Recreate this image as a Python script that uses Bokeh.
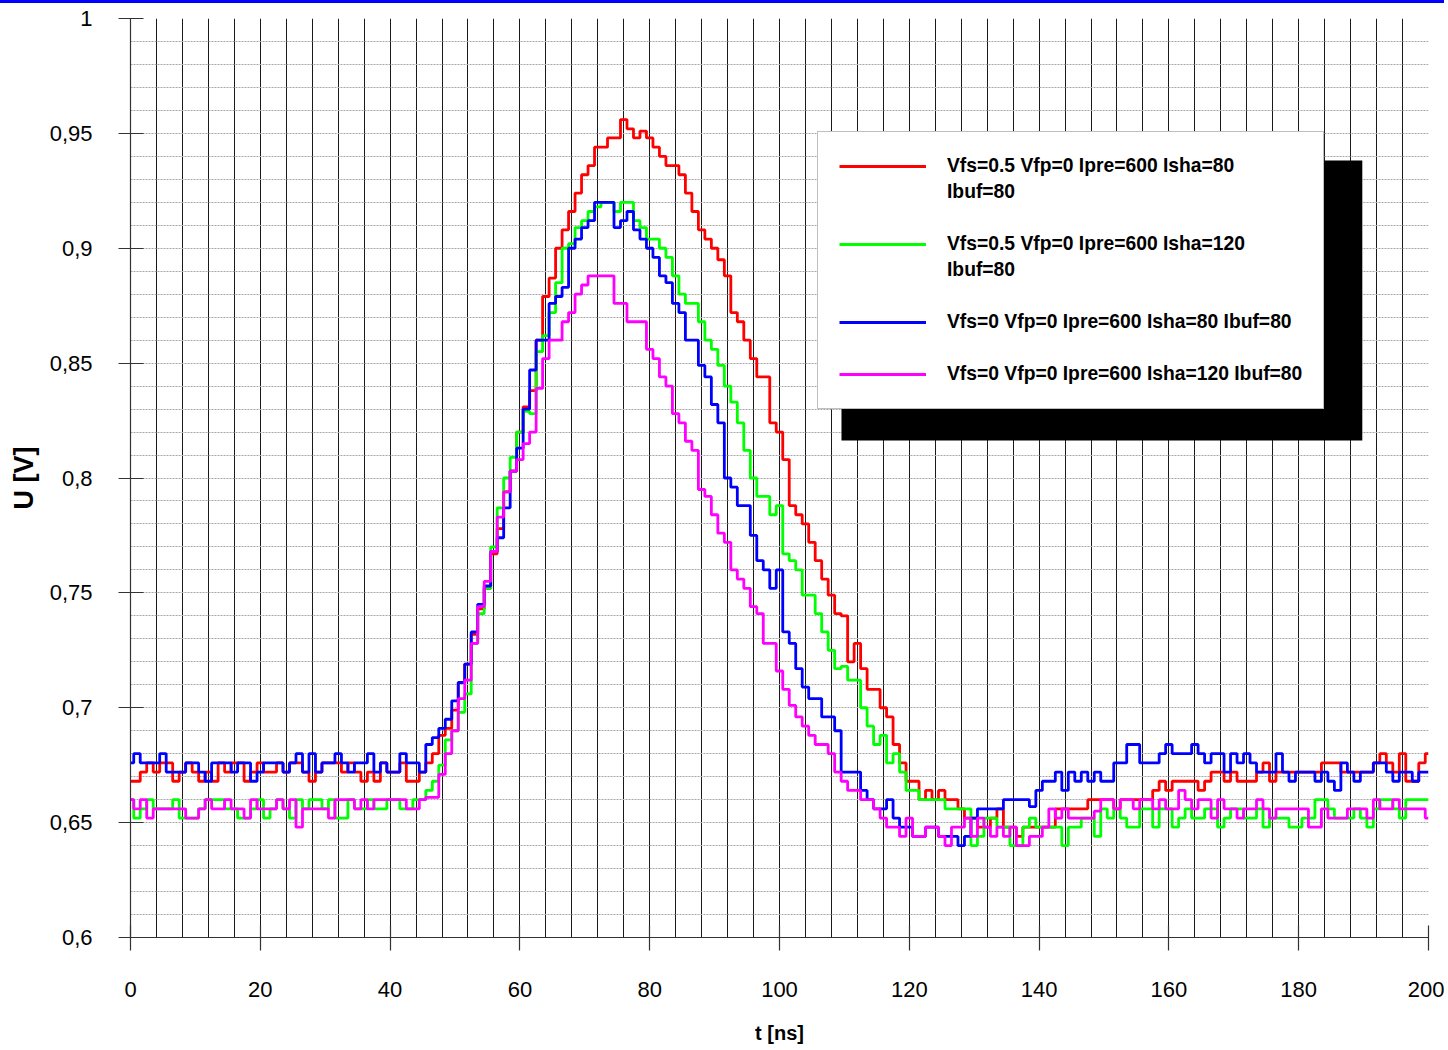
from bokeh.plotting import figure
from bokeh.models import Range1d, FixedTicker, Legend, LegendItem, BoxAnnotation
from bokeh.embed import file_html
from bokeh.resources import INLINE

# ---------------- data ----------------
t_ns = list(range(0, 201))

x_ticks = [0, 20, 40, 60, 80, 100, 120, 140, 160, 180, 200]
y_ticks = [0.6, 0.65, 0.7, 0.75, 0.8, 0.85, 0.9, 0.95, 1.0]
y_tick_labels = ["0,6", "0,65", "0,7", "0,75", "0,8", "0,85", "0,9", "0,95", "1"]

series_names = [
    ["Vfs=0.5 Vfp=0 Ipre=600 Isha=80", "Ibuf=80"],
    ["Vfs=0.5 Vfp=0 Ipre=600 Isha=120", "Ibuf=80"],
    ["Vfs=0 Vfp=0 Ipre=600 Isha=80 Ibuf=80"],
    ["Vfs=0 Vfp=0 Ipre=600 Isha=120 Ibuf=80"],
]

red = [
    0.668, 0.668, 0.672, 0.676, 0.672, 0.676, 0.676, 0.668, 0.672, 0.676,
    0.672, 0.668, 0.672, 0.668, 0.676, 0.672, 0.676, 0.676, 0.668, 0.672,
    0.676, 0.672, 0.672, 0.676, 0.672, 0.676, 0.676, 0.672, 0.668, 0.672,
    0.676, 0.676, 0.676, 0.672, 0.676, 0.672, 0.668, 0.672, 0.668, 0.676,
    0.672, 0.672, 0.676, 0.668, 0.668, 0.672, 0.676, 0.680, 0.688, 0.691,
    0.699, 0.711, 0.719, 0.732, 0.743, 0.752, 0.767, 0.778, 0.794, 0.803,
    0.820, 0.831, 0.838, 0.860, 0.879, 0.887, 0.900, 0.908, 0.916, 0.924,
    0.932, 0.936, 0.944, 0.944, 0.948, 0.948, 0.956, 0.952, 0.948, 0.951,
    0.948, 0.944, 0.940, 0.936, 0.936, 0.932, 0.924, 0.916, 0.908, 0.904,
    0.900, 0.895, 0.888, 0.872, 0.868, 0.860, 0.852, 0.844, 0.844, 0.824,
    0.820, 0.808, 0.788, 0.784, 0.780, 0.772, 0.764, 0.756, 0.749, 0.741,
    0.740, 0.720, 0.728, 0.717, 0.708, 0.708, 0.700, 0.696, 0.684, 0.676,
    0.668, 0.668, 0.660, 0.664, 0.660, 0.664, 0.660, 0.660, 0.656, 0.652,
    0.652, 0.648, 0.648, 0.652, 0.656, 0.648, 0.648, 0.644, 0.648, 0.648,
    0.648, 0.648, 0.648, 0.656, 0.656, 0.656, 0.656, 0.656, 0.660, 0.660,
    0.660, 0.660, 0.656, 0.660, 0.660, 0.660, 0.660, 0.660, 0.664, 0.668,
    0.664, 0.668, 0.668, 0.668, 0.668, 0.664, 0.668, 0.672, 0.672, 0.668,
    0.672, 0.668, 0.668, 0.668, 0.672, 0.676, 0.668, 0.672, 0.672, 0.672,
    0.672, 0.672, 0.672, 0.672, 0.676, 0.676, 0.676, 0.672, 0.672, 0.672,
    0.672, 0.672, 0.676, 0.680, 0.676, 0.672, 0.680, 0.668, 0.668, 0.676,
    0.680,
]

green = [
    0.660, 0.652, 0.656, 0.660, 0.656, 0.656, 0.656, 0.660, 0.652, 0.652,
    0.652, 0.656, 0.660, 0.660, 0.660, 0.656, 0.656, 0.652, 0.652, 0.656,
    0.660, 0.652, 0.656, 0.660, 0.656, 0.652, 0.660, 0.656, 0.660, 0.660,
    0.656, 0.660, 0.652, 0.652, 0.660, 0.656, 0.656, 0.660, 0.656, 0.656,
    0.660, 0.660, 0.656, 0.656, 0.660, 0.660, 0.664, 0.668, 0.675, 0.686,
    0.690, 0.698, 0.706, 0.728, 0.741, 0.752, 0.770, 0.787, 0.800, 0.809,
    0.820, 0.829, 0.828, 0.855, 0.862, 0.872, 0.885, 0.900, 0.902, 0.909,
    0.912, 0.916, 0.918, 0.920, 0.920, 0.916, 0.920, 0.920, 0.912, 0.909,
    0.904, 0.904, 0.900, 0.896, 0.888, 0.880, 0.876, 0.876, 0.868, 0.860,
    0.856, 0.849, 0.840, 0.833, 0.824, 0.812, 0.800, 0.792, 0.792, 0.784,
    0.788, 0.767, 0.764, 0.760, 0.749, 0.749, 0.741, 0.733, 0.725, 0.717,
    0.718, 0.712, 0.712, 0.700, 0.692, 0.684, 0.688, 0.676, 0.680, 0.672,
    0.664, 0.664, 0.660, 0.660, 0.660, 0.660, 0.656, 0.656, 0.656, 0.656,
    0.640, 0.644, 0.652, 0.652, 0.648, 0.648, 0.640, 0.640, 0.648, 0.652,
    0.648, 0.648, 0.648, 0.648, 0.640, 0.648, 0.648, 0.652, 0.652, 0.644,
    0.656, 0.652, 0.656, 0.652, 0.648, 0.648, 0.656, 0.656, 0.648, 0.656,
    0.656, 0.648, 0.652, 0.656, 0.652, 0.652, 0.656, 0.656, 0.648, 0.652,
    0.656, 0.656, 0.652, 0.652, 0.656, 0.648, 0.652, 0.652, 0.652, 0.648,
    0.648, 0.652, 0.652, 0.660, 0.660, 0.656, 0.652, 0.652, 0.652, 0.656,
    0.652, 0.648, 0.656, 0.660, 0.660, 0.656, 0.652, 0.660, 0.660, 0.660,
    0.660,
]

blue = [
    0.676, 0.680, 0.676, 0.676, 0.676, 0.680, 0.672, 0.672, 0.672, 0.676,
    0.676, 0.672, 0.668, 0.676, 0.676, 0.676, 0.672, 0.676, 0.676, 0.668,
    0.672, 0.676, 0.676, 0.676, 0.672, 0.676, 0.680, 0.672, 0.680, 0.672,
    0.676, 0.676, 0.680, 0.676, 0.672, 0.676, 0.676, 0.680, 0.672, 0.676,
    0.672, 0.672, 0.680, 0.676, 0.676, 0.672, 0.684, 0.687, 0.691, 0.695,
    0.703, 0.711, 0.719, 0.733, 0.745, 0.753, 0.768, 0.774, 0.787, 0.803,
    0.813, 0.830, 0.847, 0.860, 0.860, 0.876, 0.879, 0.883, 0.900, 0.904,
    0.909, 0.912, 0.920, 0.920, 0.920, 0.909, 0.912, 0.916, 0.908, 0.904,
    0.900, 0.896, 0.888, 0.885, 0.876, 0.872, 0.860, 0.860, 0.849, 0.844,
    0.832, 0.824, 0.800, 0.796, 0.788, 0.788, 0.775, 0.764, 0.760, 0.752,
    0.760, 0.733, 0.728, 0.717, 0.709, 0.704, 0.704, 0.696, 0.696, 0.690,
    0.672, 0.672, 0.672, 0.664, 0.660, 0.656, 0.656, 0.660, 0.652, 0.648,
    0.648, 0.644, 0.644, 0.648, 0.648, 0.644, 0.644, 0.644, 0.640, 0.644,
    0.652, 0.656, 0.656, 0.656, 0.656, 0.660, 0.660, 0.660, 0.660, 0.657,
    0.664, 0.668, 0.668, 0.672, 0.664, 0.672, 0.668, 0.672, 0.668, 0.672,
    0.668, 0.668, 0.676, 0.676, 0.684, 0.684, 0.676, 0.676, 0.676, 0.680,
    0.684, 0.680, 0.680, 0.680, 0.684, 0.680, 0.676, 0.680, 0.680, 0.672,
    0.680, 0.676, 0.680, 0.676, 0.672, 0.672, 0.672, 0.680, 0.672, 0.668,
    0.672, 0.672, 0.672, 0.668, 0.672, 0.668, 0.664, 0.676, 0.672, 0.668,
    0.672, 0.672, 0.676, 0.676, 0.672, 0.668, 0.672, 0.672, 0.668, 0.672,
    0.672,
]

magenta = [
    0.660, 0.656, 0.660, 0.652, 0.656, 0.656, 0.656, 0.656, 0.656, 0.652,
    0.652, 0.656, 0.660, 0.656, 0.656, 0.660, 0.656, 0.656, 0.652, 0.660,
    0.656, 0.656, 0.656, 0.660, 0.656, 0.660, 0.648, 0.656, 0.656, 0.656,
    0.656, 0.652, 0.660, 0.660, 0.660, 0.656, 0.660, 0.656, 0.660, 0.660,
    0.660, 0.660, 0.660, 0.656, 0.656, 0.660, 0.661, 0.661, 0.671, 0.680,
    0.690, 0.704, 0.712, 0.728, 0.744, 0.755, 0.768, 0.783, 0.794, 0.803,
    0.808, 0.815, 0.820, 0.839, 0.852, 0.860, 0.860, 0.868, 0.872, 0.880,
    0.884, 0.888, 0.888, 0.888, 0.888, 0.876, 0.876, 0.868, 0.868, 0.868,
    0.856, 0.852, 0.844, 0.840, 0.828, 0.824, 0.816, 0.812, 0.795, 0.792,
    0.784, 0.776, 0.772, 0.760, 0.756, 0.752, 0.744, 0.741, 0.728, 0.728,
    0.716, 0.708, 0.701, 0.696, 0.692, 0.688, 0.684, 0.684, 0.680, 0.672,
    0.668, 0.664, 0.664, 0.660, 0.660, 0.656, 0.652, 0.648, 0.648, 0.644,
    0.652, 0.644, 0.644, 0.648, 0.648, 0.644, 0.640, 0.648, 0.648, 0.652,
    0.644, 0.652, 0.648, 0.644, 0.648, 0.644, 0.648, 0.640, 0.640, 0.644,
    0.644, 0.648, 0.656, 0.652, 0.656, 0.652, 0.652, 0.652, 0.652, 0.655,
    0.660, 0.660, 0.656, 0.660, 0.660, 0.656, 0.660, 0.660, 0.656, 0.660,
    0.656, 0.656, 0.664, 0.660, 0.656, 0.660, 0.660, 0.652, 0.660, 0.656,
    0.656, 0.652, 0.656, 0.656, 0.660, 0.656, 0.652, 0.656, 0.656, 0.656,
    0.656, 0.656, 0.648, 0.648, 0.656, 0.652, 0.652, 0.652, 0.656, 0.656,
    0.656, 0.652, 0.660, 0.656, 0.656, 0.660, 0.656, 0.656, 0.656, 0.656,
    0.652,
]

for s in (red, green, blue, magenta):
    assert len(s) == len(t_ns), len(s)

FONT = "Liberation Sans"

# ---------------- figure ----------------
p = figure(
    width=1444, height=1044,
    x_range=Range1d(0, 200), y_range=Range1d(0.6, 1.0),
    output_backend="svg", toolbar_location=None,
    min_border_left=130, min_border_right=16,
    min_border_top=15, min_border_bottom=110,
)
p.styles = {"border-top": "3px solid #0000ff"}
p.outline_line_color = None
p.background_fill_color = "white"
p.border_fill_color = "white"

# axes
p.xaxis.ticker = FixedTicker(ticks=x_ticks)
p.yaxis.ticker = FixedTicker(ticks=y_ticks)
p.yaxis.major_label_overrides = dict(zip(y_ticks, y_tick_labels))

for ax in (p.xaxis[0], p.yaxis[0]):
    ax.axis_line_color = "#333333"
    ax.axis_line_width = 1.2
    ax.major_tick_line_color = "#333333"
    ax.major_tick_line_width = 1.2
    ax.minor_tick_in = 0
    ax.minor_tick_out = 0
    ax.major_label_text_font = FONT
    ax.major_label_text_font_size = "22px"
    ax.major_label_text_color = "black"
    ax.axis_label_text_font = FONT
    ax.axis_label_text_font_style = "bold"
    ax.axis_label_text_color = "black"

p.xaxis.axis_label = "t [ns]"
p.xaxis.axis_label_text_font_size = "20px"
p.xaxis.major_tick_in = 12
p.xaxis.major_tick_out = 13
p.xaxis.major_label_standoff = 31
p.xaxis.axis_label_standoff = 22

p.yaxis.axis_label = "U [V]"
p.yaxis.axis_label_text_font_size = "27px"
p.yaxis.major_tick_in = 13
p.yaxis.major_tick_out = 12
p.yaxis.major_label_standoff = 26
p.yaxis.axis_label_standoff = 8

# grids
p.xgrid.ticker = FixedTicker(ticks=list(range(0, 201, 4)))
p.xgrid.grid_line_color = "#1a1a1a"
p.xgrid.grid_line_width = 1
p.ygrid.ticker = FixedTicker(ticks=[round(0.6 + 0.01 * i, 2) for i in range(41)])
p.ygrid.grid_line_color = "#a6a6a6"
p.ygrid.grid_line_width = 1
p.ygrid.grid_line_dash = "2 1"

# series
colors = ["#ff0000", "#00ff00", "#0000ff", "#ff00ff"]
renderers = []
for ys, c in zip((red, green, blue, magenta), colors):
    r = p.step(t_ns, ys, mode="center", line_color=c, line_width=2.8)
    renderers.append(r)

blank = p.line(x=[], y=[], line_alpha=0)

# legend shadow
shadow = BoxAnnotation(left=109.55, right=189.8, top=0.9382, bottom=0.8163,
                       fill_color="black", fill_alpha=1.0, line_color=None)
p.add_layout(shadow)

items = []
for i, (names, r) in enumerate(zip(series_names, renderers)):
    items.append(LegendItem(label=names[0], renderers=[r]))
    for extra in names[1:]:
        items.append(LegendItem(label=extra, renderers=[blank]))
    if i < len(series_names) - 1:
        items.append(LegendItem(label=" ", renderers=[blank]))

legend = Legend(
    items=items, location=(687, 528), orientation="vertical",
    label_text_font=FONT, label_text_font_size="19.3px", label_text_font_style="bold",
    label_text_color="black",
    glyph_width=87, glyph_height=26, label_height=26, label_standoff=21,
    spacing=0, padding=21, margin=0,
    border_line_color="#7f7f7f", border_line_width=1.5,
    background_fill_color="white", background_fill_alpha=1.0,
)
p.add_layout(legend)

open("out.html", "w").write(file_html(p, INLINE))
